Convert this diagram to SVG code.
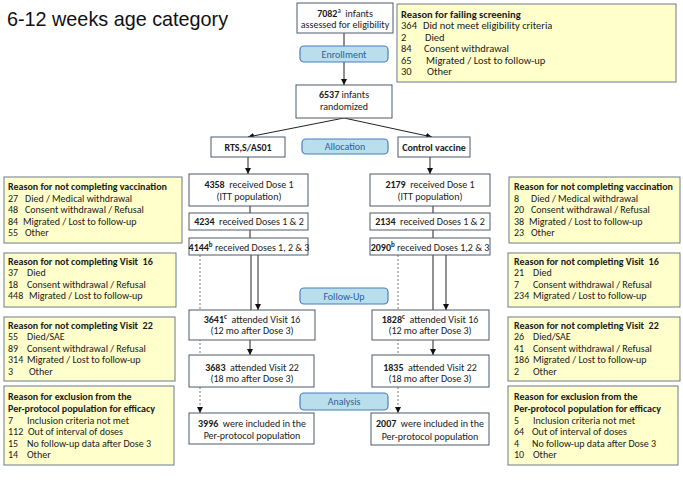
<svg xmlns="http://www.w3.org/2000/svg" width="683" height="480" viewBox="0 0 683 480">
<defs>
<style>
.t{font-family:Carlito,'Liberation Sans Narrow','Liberation Sans',sans-serif;font-size:10px;fill:#1a1a1a}
.s{font-size:10.5px}
.m{text-anchor:middle}
.b{font-weight:bold}
.node{fill:#fff;stroke:#4d5a6b;stroke-width:1}
.note{fill:#ffffcc;stroke:#6d7a8a;stroke-width:1}
.pill{fill:#b9dfec;stroke:#4a7ebb;stroke-width:1.2}
.pt{fill:#2f5d9a;text-anchor:middle}
.c{stroke:#222;stroke-width:1;fill:none}
.d{stroke:#777;stroke-width:1;stroke-dasharray:2 2;fill:none}
</style>
<marker id="ah" viewBox="0 0 10 10" refX="10" refY="5" markerWidth="6" markerHeight="6" orient="auto" markerUnits="userSpaceOnUse">
<path d="M0,0 L10,5 L0,10 z" fill="#111"/>
</marker>
</defs>
<rect width="683" height="480" fill="#fff"/>
<text x="7" y="26" style="font-family:'Liberation Sans',Arial,sans-serif;font-size:19.8px;fill:#111">6-12 weeks age category</text>

<g id="connectors">
<line class="c" x1="344" y1="33" x2="344" y2="85" marker-end="url(#ah)"/>
<line class="c" x1="344" y1="118" x2="248" y2="137" marker-end="url(#ah)"/>
<line class="c" x1="344" y1="118" x2="432" y2="137" marker-end="url(#ah)"/>
<line class="c" x1="248" y1="157" x2="248" y2="174" marker-end="url(#ah)"/>
<line class="c" x1="430" y1="157" x2="430" y2="174" marker-end="url(#ah)"/>
<line class="c" x1="250" y1="206" x2="250" y2="213"/>
<line class="c" x1="250" y1="230" x2="250" y2="238"/>
<line class="c" x1="433" y1="206" x2="433" y2="213"/>
<line class="c" x1="433" y1="230" x2="433" y2="238"/>
<line class="c" x1="251" y1="255" x2="251" y2="310"/>
<line class="c" x1="258" y1="255" x2="258" y2="310" marker-end="url(#ah)"/>
<line class="c" x1="433" y1="255" x2="433" y2="310"/>
<line class="c" x1="446" y1="255" x2="446" y2="310" marker-end="url(#ah)"/>
<line class="c" x1="250" y1="340" x2="250" y2="355" marker-end="url(#ah)"/>
<line class="c" x1="433" y1="340" x2="433" y2="355" marker-end="url(#ah)"/>
<line class="d" x1="200" y1="255" x2="200" y2="413" marker-end="url(#ah)"/>
<line class="d" x1="398" y1="255" x2="398" y2="413" marker-end="url(#ah)"/>
</g>

<g id="phase-enrollment"><rect class="pill" x="300" y="46" width="88" height="16" rx="4"/><text class="t pt" x="344" y="57.5">Enrollment</text></g>
<g id="phase-allocation"><rect class="pill" x="302" y="139" width="86" height="15" rx="4"/><text class="t pt" x="345" y="150">Allocation</text></g>
<g id="phase-followup"><rect class="pill" x="300" y="288" width="88" height="16" rx="4"/><text class="t pt" x="344" y="299.5">Follow-Up</text></g>
<g id="phase-analysis"><rect class="pill" x="300" y="393" width="88" height="17" rx="4"/><text class="t pt" x="344" y="405">Analysis</text></g>

<g id="n-assessed"><rect class="node" x="297" y="3" width="96" height="30"/>
<text class="t m" x="345" y="16.5"><tspan class="b">7082</tspan><tspan font-size="7" dy="-3.5">a</tspan><tspan dy="3.5">&#160; infants</tspan></text>
<text class="t m" x="345" y="28">assessed for eligibility</text></g>

<g id="n-randomized"><rect class="node" x="296" y="85" width="96" height="33"/>
<text class="t m" x="344" y="98"><tspan class="b">6537</tspan> infants</text>
<text class="t m" x="344" y="110">randomized</text></g>

<g id="n-rts"><rect class="node" x="211" y="137" width="74" height="20"/><text class="t m b" x="248" y="150.5">RTS,S/AS01</text></g>
<g id="n-control"><rect class="node" x="398" y="137" width="72" height="20"/><text class="t m b" x="434" y="150.5">Control vaccine</text></g>

<g id="n-l-d1"><rect class="node" x="189" y="174" width="119" height="32"/>
<text class="t m" x="249" y="187.5"><tspan class="b">4358</tspan>&#160; received Dose 1</text>
<text class="t m" x="249" y="199.5">(ITT population)</text></g>
<g id="n-l-d2"><rect class="node" x="189" y="213" width="119" height="17"/>
<text class="t m" x="249" y="225"><tspan class="b">4234</tspan>&#160; received Doses 1 &amp; 2</text></g>
<g id="n-l-d3"><rect class="node" x="189" y="238" width="119" height="17"/>
<text class="t m" x="249" y="250.5"><tspan class="b">4144</tspan><tspan class="b" font-size="7" dy="-3.5">b</tspan><tspan dy="3.5"> received Doses 1, 2 &amp; 3</tspan></text></g>

<g id="n-r-d1"><rect class="node" x="370" y="174" width="120" height="32"/>
<text class="t m" x="430" y="187.5"><tspan class="b">2179</tspan>&#160; received Dose 1</text>
<text class="t m" x="430" y="199.5">(ITT population)</text></g>
<g id="n-r-d2"><rect class="node" x="370" y="213" width="120" height="17"/>
<text class="t m" x="430" y="225"><tspan class="b">2134</tspan>&#160; received Doses 1 &amp; 2</text></g>
<g id="n-r-d3"><rect class="node" x="370" y="238" width="120" height="17"/>
<text class="t m" x="430" y="250.5"><tspan class="b">2090</tspan><tspan class="b" font-size="7" dy="-3.5">b</tspan><tspan dy="3.5"> received Doses 1,2 &amp; 3</tspan></text></g>

<g id="n-l-v16"><rect class="node" x="189" y="310" width="126" height="30"/>
<text class="t m" x="252" y="322.5"><tspan class="b">3641</tspan><tspan class="b" font-size="7" dy="-3.5">c</tspan><tspan dy="3.5">&#160; attended Visit 16</tspan></text>
<text class="t m" x="252" y="334">(12 mo after Dose 3)</text></g>
<g id="n-l-v22"><rect class="node" x="189" y="355" width="125" height="32"/>
<text class="t m" x="252" y="370.5"><tspan class="b">3683</tspan>&#160; attended Visit 22</text>
<text class="t m" x="252" y="382">(18 mo after Dose 3)</text></g>
<g id="n-l-pp"><rect class="node" x="189" y="413" width="125" height="31"/>
<text class="t m" x="252" y="426.5"><tspan class="b">3996</tspan>&#160; were included in the</text>
<text class="t m" x="252" y="439">Per-protocol population</text></g>

<g id="n-r-v16"><rect class="node" x="372" y="310" width="117" height="30"/>
<text class="t m" x="430" y="322.5"><tspan class="b">1828</tspan><tspan class="b" font-size="7" dy="-3.5">c</tspan><tspan dy="3.5">&#160; attended Visit 16</tspan></text>
<text class="t m" x="430" y="334">(12 mo after Dose 3)</text></g>
<g id="n-r-v22"><rect class="node" x="372" y="355" width="117" height="32"/>
<text class="t m" x="430" y="370.5"><tspan class="b">1835</tspan>&#160; attended Visit 22</text>
<text class="t m" x="430" y="382">(18 mo after Dose 3)</text></g>
<g id="n-r-pp"><rect class="node" x="371" y="413" width="118" height="32"/>
<text class="t m" x="430" y="426.5"><tspan class="b">2007</tspan>&#160; were included in the</text>
<text class="t m" x="430" y="439.5">Per-protocol population</text></g>

<g id="note-screening"><rect class="note" x="397" y="4" width="279" height="78"/>
<text class="t s b" x="401" y="17.5">Reason for failing screening</text>
<text class="t s" x="401" y="29">364</text><text class="t s" x="423" y="29">Did not meet eligibility criteria</text>
<text class="t s" x="401" y="40.5">2</text><text class="t s" x="425" y="40.5">Died</text>
<text class="t s" x="401" y="52">84</text><text class="t s" x="424" y="52">Consent withdrawal</text>
<text class="t s" x="401" y="63.5">65</text><text class="t s" x="426" y="63.5">Migrated / Lost to follow-up</text>
<text class="t s" x="401" y="75">30</text><text class="t s" x="427" y="75">Other</text></g>

<g id="note-l-vacc"><rect class="note" x="4" y="177" width="178" height="66"/>
<text class="t b" x="8" y="190">Reason for not completing vaccination</text>
<text class="t" x="8" y="201.5">27</text><text class="t" x="25" y="201.5">Died / Medical withdrawal</text>
<text class="t" x="8" y="213">48</text><text class="t" x="25" y="213">Consent withdrawal / Refusal</text>
<text class="t" x="8" y="224.5">84</text><text class="t" x="23" y="224.5">Migrated / Lost to follow-up</text>
<text class="t" x="8" y="236">55</text><text class="t" x="25" y="236">Other</text></g>

<g id="note-l-v16"><rect class="note" x="4" y="253" width="172" height="54"/>
<text class="t b" x="8" y="264.5">Reason for not completing Visit&#160; 16</text>
<text class="t" x="8" y="276">37</text><text class="t" x="27" y="276">Died</text>
<text class="t" x="8" y="287.5">18</text><text class="t" x="27" y="287.5">Consent withdrawal / Refusal</text>
<text class="t" x="8" y="299">448</text><text class="t" x="29" y="299">Migrated / Lost to follow-up</text></g>

<g id="note-l-v22"><rect class="note" x="4" y="317" width="171" height="64"/>
<text class="t b" x="8" y="328.5">Reason for not completing Visit&#160; 22</text>
<text class="t" x="8" y="340">55</text><text class="t" x="27" y="340">Died/SAE</text>
<text class="t" x="8" y="351.5">89</text><text class="t" x="27" y="351.5">Consent withdrawal / Refusal</text>
<text class="t" x="8" y="363">314</text><text class="t" x="27" y="363">Migrated / Lost to follow-up</text>
<text class="t" x="8" y="374.5">3</text><text class="t" x="29" y="374.5">Other</text></g>

<g id="note-l-pp"><rect class="note" x="4" y="386" width="170" height="79"/>
<text class="t b" x="8" y="400">Reason for exclusion from the</text>
<text class="t b" x="8" y="412">Per-protocol population for efficacy</text>
<text class="t" x="8" y="423.5">7</text><text class="t" x="27" y="423.5">Inclusion criteria not met</text>
<text class="t" x="8" y="435">112</text><text class="t" x="28" y="435">Out of interval of doses</text>
<text class="t" x="8" y="446.5">15</text><text class="t" x="27" y="446.5">No follow-up data after Dose 3</text>
<text class="t" x="8" y="458">14</text><text class="t" x="27" y="458">Other</text></g>

<g id="note-r-vacc"><rect class="note" x="509" y="177" width="171" height="66"/>
<text class="t b" x="514" y="190">Reason for not completing vaccination</text>
<text class="t" x="514" y="201.5">8</text><text class="t" x="531" y="201.5">Died / Medical withdrawal</text>
<text class="t" x="514" y="213">20</text><text class="t" x="531" y="213">Consent withdrawal / Refusal</text>
<text class="t" x="514" y="224.5">38</text><text class="t" x="529" y="224.5">Migrated / Lost to follow-up</text>
<text class="t" x="514" y="236">23</text><text class="t" x="531" y="236">Other</text></g>

<g id="note-r-v16"><rect class="note" x="508" y="253" width="172" height="54"/>
<text class="t b" x="514" y="264.5">Reason for not completing Visit&#160; 16</text>
<text class="t" x="514" y="276">21</text><text class="t" x="533" y="276">Died</text>
<text class="t" x="514" y="287.5">7</text><text class="t" x="533" y="287.5">Consent withdrawal / Refusal</text>
<text class="t" x="514" y="299">234</text><text class="t" x="533" y="299">Migrated / Lost to follow-up</text></g>

<g id="note-r-v22"><rect class="note" x="508" y="317" width="172" height="64"/>
<text class="t b" x="514" y="328.5">Reason for not completing Visit&#160; 22</text>
<text class="t" x="514" y="340">26</text><text class="t" x="533" y="340">Died/SAE</text>
<text class="t" x="514" y="351.5">41</text><text class="t" x="533" y="351.5">Consent withdrawal / Refusal</text>
<text class="t" x="514" y="363">186</text><text class="t" x="533" y="363">Migrated / Lost to follow-up</text>
<text class="t" x="514" y="374.5">2</text><text class="t" x="533" y="374.5">Other</text></g>

<g id="note-r-pp"><rect class="note" x="508" y="386" width="170" height="79"/>
<text class="t b" x="514" y="400">Reason for exclusion from the</text>
<text class="t b" x="514" y="412">Per-protocol population for efficacy</text>
<text class="t" x="514" y="423.5">5</text><text class="t" x="533" y="423.5">Inclusion criteria not met</text>
<text class="t" x="514" y="435">64</text><text class="t" x="532" y="435">Out of interval of doses</text>
<text class="t" x="514" y="446.5">4</text><text class="t" x="532" y="446.5">No follow-up data after Dose 3</text>
<text class="t" x="514" y="458">10</text><text class="t" x="533" y="458">Other</text></g>
</svg>
